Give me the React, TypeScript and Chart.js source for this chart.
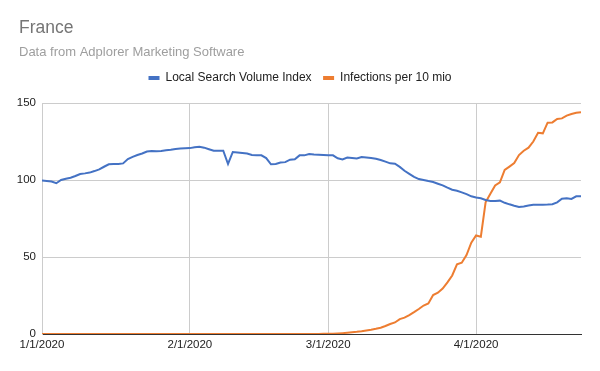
import React, { useEffect, useRef } from "react";
import { Chart, registerables } from "chart.js";

Chart.register(...registerables);

// Day index 0 = 1/1/2020 … 113 = 4/23/2020
const searchIndex = [
  99.6, 99.3, 99.0, 97.9, 100.0, 100.8, 101.5, 102.6, 103.9, 104.3,
  104.8, 105.8, 106.9, 108.6, 110.2, 110.4, 110.4, 110.8, 113.6, 115.0,
  116.2, 117.2, 118.5, 118.8, 118.6, 118.8, 119.3, 119.7, 120.2, 120.5,
  120.6, 120.7, 121.3, 121.6, 121.0, 120.0, 119.0, 119.0, 119.0, 110.4,
  118.2, 117.9, 117.6, 117.2, 116.3, 116.1, 116.0, 114.2, 110.2, 110.4,
  111.4, 111.6, 113.2, 113.5, 116.0, 116.0, 116.9, 116.5, 116.4, 116.2,
  116.0, 116.0, 114.1, 113.4, 114.6, 114.3, 114.0, 114.9, 114.6, 114.3,
  113.8, 113.0, 111.9, 110.8, 110.6, 108.5, 106.0, 104.0, 102.0, 100.6,
  100.0, 99.3, 98.7, 97.6, 96.5, 95.0, 93.7, 93.0, 92.0, 90.8,
  89.4, 88.6, 88.1, 87.0, 86.4, 86.4, 86.6, 85.2, 84.2, 83.3,
  82.5, 82.8, 83.5, 84.0, 84.0, 84.0, 84.1, 84.3, 85.5, 87.9,
  88.2, 87.7, 89.4, 89.4,
];

const infections = [
  0, 0, 0, 0, 0, 0, 0, 0, 0, 0,
  0, 0, 0, 0, 0, 0, 0, 0, 0, 0,
  0, 0, 0, 0, 0, 0, 0, 0, 0, 0,
  0, 0, 0, 0, 0, 0, 0, 0, 0, 0,
  0, 0, 0, 0, 0, 0, 0, 0, 0, 0,
  0, 0, 0, 0, 0, 0, 0, 0, 0.05, 0.1,
  0.15, 0.2, 0.35, 0.55, 0.8, 1.1, 1.4, 1.8, 2.3, 2.8,
  3.4, 4.1, 5.2, 6.5, 7.5, 9.7, 10.6, 12.3, 14.2, 16.2,
  18.5, 19.8, 25.3, 26.8, 29.5, 33.5, 38.0, 45.2, 46.3, 51.3,
  59.3, 64.0, 63.2, 85.5, 91.0, 96.5, 98.5, 106.5, 108.7, 111.0,
  116.2, 119.0, 121.0, 125.0, 130.7, 130.3, 137.2, 137.4, 139.6, 140.0,
  141.8, 142.9, 143.7, 144.0,
];

const dayIndex = searchIndex.map((_, i) => i);
const tickDays = [0, 31, 60, 91];
const tickLabels = ["1/1/2020", "2/1/2020", "3/1/2020", "4/1/2020"];
const yTicks = [0, 50, 100, 150];

const FONT = "'Liberation Sans', Arial, sans-serif";

export default function App() {
  const ref = useRef<HTMLCanvasElement | null>(null);

  useEffect(() => {
    document.body.style.margin = "0";
    const canvas = ref.current;
    if (!canvas) return;
    const chart = new Chart(canvas, {
      type: "line",
      data: {
        labels: dayIndex,
        datasets: [
          {
            label: "Local Search Volume Index",
            data: searchIndex,
            borderColor: "#4472C4",
            backgroundColor: "#4472C4",
            borderWidth: 2,
            pointRadius: 0,
            tension: 0,
          },
          {
            label: "Infections per 10 mio",
            data: infections,
            borderColor: "#ED7D31",
            backgroundColor: "#ED7D31",
            borderWidth: 2,
            pointRadius: 0,
            tension: 0,
          },
        ],
      },
      options: {
        responsive: false,
        animation: false,
        devicePixelRatio: 1,
        layout: { padding: { left: 19, right: 19, top: 0, bottom: 0 } },
        plugins: {
          title: {
            display: true,
            text: "France",
            align: "start",
            color: "#757575",
            font: { family: FONT, size: 17.5, weight: "normal" },
            padding: { top: 17.5, bottom: 0 },
          },
          subtitle: {
            display: true,
            text: "Data from Adplorer Marketing Software",
            align: "start",
            color: "#9e9e9e",
            font: { family: FONT, size: 13, weight: "normal" },
            padding: { top: 6.2, bottom: 0.2 },
          },
          legend: {
            display: true,
            position: "top",
            align: "center",
            labels: {
              boxWidth: 11,
              boxHeight: 4,
              padding: 11.5,
              color: "#222222",
              font: { family: FONT, size: 12 },
              generateLabels: (c: any) =>
                Chart.defaults.plugins.legend.labels
                  .generateLabels(c)
                  .map((l: any) => ({ ...l, lineWidth: 0 })),
            },
          },
          tooltip: { enabled: false },
        },
        scales: {
          x: {
            type: "linear",
            min: 0,
            max: dayIndex[dayIndex.length - 1],
            afterBuildTicks: (s: any) => {
              s.ticks = tickDays.map((v) => ({ value: v }));
            },
            afterFit: (s: any) => {
              s.height = 37;
            },
            grid: { color: "#cccccc", lineWidth: 1, drawTicks: false },
            border: { display: true, color: "#333333", width: 1 },
            ticks: {
              padding: 4,
              color: "#222222",
              font: { family: FONT, size: 11.5 },
              maxRotation: 0,
              autoSkip: false,
              callback: (v: any) => {
                const i = tickDays.indexOf(Number(v));
                return i >= 0 ? tickLabels[i] : "";
              },
            },
          },
          xTop: {
            type: "linear",
            position: "top",
            display: true,
            grid: { display: false, drawTicks: false },
            border: { display: false },
            ticks: { display: false },
            afterFit: (s: any) => {
              s.height = 9;
            },
          },
          y: {
            type: "linear",
            min: 0,
            max: 150,
            afterBuildTicks: (s: any) => {
              s.ticks = yTicks.map((v) => ({ value: v }));
            },
            afterFit: (s: any) => {
              s.width = 23;
              // let the tick labels extend into the left padding
              s._computeLabelArea = () => undefined;
            },
            grid: { color: "#cccccc", lineWidth: 1, drawTicks: false },
            border: { display: true, color: "#cccccc", width: 1 },
            ticks: {
              padding: 6,
              color: "#222222",
              font: { family: FONT, size: 11.5 },
            },
          },
        },
      } as any,
    });
    return () => chart.destroy();
  }, []);

  return (
    <div style={{ width: 600, height: 371 }}>
      <canvas ref={ref} width={600} height={371} />
    </div>
  );
}
